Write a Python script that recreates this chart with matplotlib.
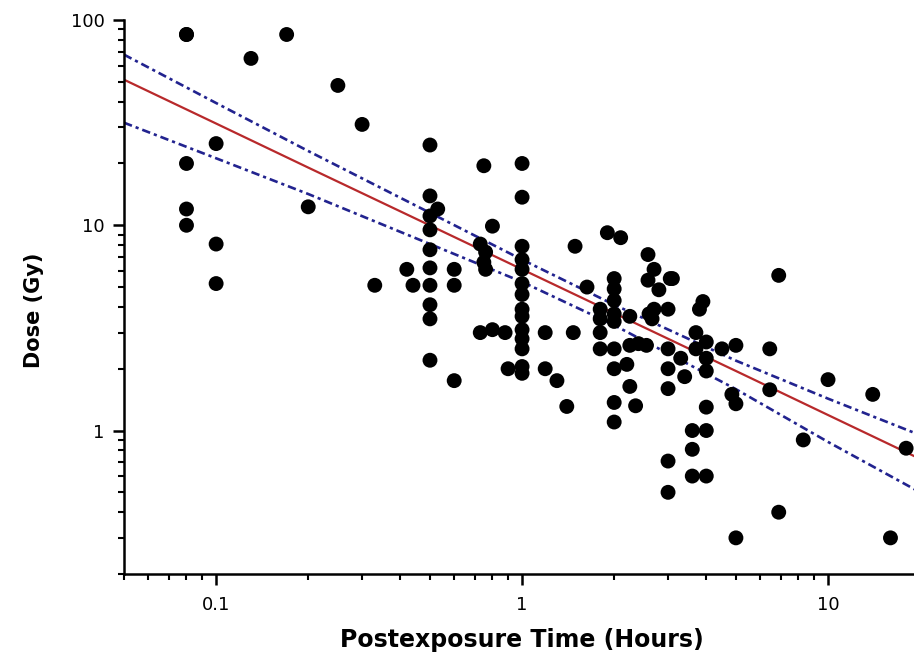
import matplotlib.pyplot as plt
from matplotlib.ticker import FixedLocator, FixedFormatter, LogLocator, NullFormatter

# scatter data: postexposure time (hours) and dose (Gy)
time_h = [
    0.08, 0.08, 0.08, 0.08, 0.08, 0.1, 0.1, 0.1, 0.13, 0.17, 0.2, 0.25, 0.3, 0.33,
    0.42, 0.44, 0.5, 0.5, 0.53, 0.5, 0.5, 0.5, 0.5, 0.5, 0.5, 0.5, 0.5,
    0.6, 0.6, 0.6,
    0.75, 0.8, 0.73, 0.76, 0.75, 0.76, 0.73, 0.8, 0.88, 0.9,
    1.0, 1.0, 1.0, 1.0, 1.0, 1.0, 1.0, 1.0, 1.0, 1.0, 1.0, 1.0, 1.0, 1.0,
    1.19, 1.19, 1.3, 1.4, 1.47, 1.49,
    1.63, 1.8, 1.8, 1.8, 1.8, 1.9, 2.0, 2.0, 2.0, 2.0, 2.0, 2.0, 2.0, 2.0, 2.0, 2.1,
    2.2, 2.25, 2.25, 2.25, 2.35, 2.4, 2.55, 2.6, 2.58, 2.58, 2.66, 2.7, 2.7, 2.8,
    3.0, 3.0, 3.0, 3.0, 3.0, 3.0, 3.05, 3.1, 3.3, 3.4,
    3.6, 3.6, 3.6, 3.7, 3.7, 3.8, 3.9, 4.0, 4.0, 4.0, 4.0, 4.0, 4.0,
    4.5, 4.85, 5.0, 5.0, 5.0, 6.45, 6.45, 6.9, 6.9, 8.3, 10.0, 14.0, 16.0, 18.0,
]
dose_gy = [
    85, 85, 20, 12, 10, 25, 8.1, 5.2, 65, 85, 12.3, 48, 31, 5.1,
    6.1, 5.1, 24.6, 13.9, 12.0, 11.1, 9.5, 7.6, 6.2, 5.1, 4.1, 3.5, 2.2,
    6.1, 5.1, 1.75,
    19.5, 9.9, 8.1, 7.4, 6.6, 6.1, 3.0, 3.1, 3.0, 2.0,
    20, 13.7, 7.9, 6.8, 6.1, 5.2, 4.6, 3.9, 3.6, 3.1, 2.8, 2.5, 2.05, 1.9,
    3.0, 2.0, 1.75, 1.31, 3.0, 7.9,
    5.0, 3.9, 3.5, 3.0, 2.5, 9.2, 5.5, 4.9, 4.3, 3.7, 3.4, 2.5, 2.0, 1.37, 1.1, 8.7,
    2.1, 3.6, 2.6, 1.64, 1.32, 2.65, 2.6, 3.7, 7.2, 5.4, 3.5, 6.1, 3.9, 4.85,
    3.9, 2.5, 2.0, 1.6, 0.71, 0.5, 5.5, 5.5, 2.25, 1.83,
    1.0, 0.81, 0.6, 3.0, 2.5, 3.9, 4.25, 2.7, 2.25, 1.95, 1.3, 1.0, 0.6,
    2.5, 1.5, 2.6, 1.35, 0.3, 2.5, 1.58, 5.7, 0.4, 0.9, 1.77, 1.5, 0.3, 0.82,
]

fit_time = [0.05, 0.1, 0.2, 0.5, 1, 2, 5, 10, 20]
fit_dose = [51.2, 31.3, 19.1, 9.98, 6.1, 3.73, 1.95, 1.19, 0.727]
ci_upper = [67.8, 39.4, 23.0, 11.5, 6.8, 4.1, 2.19, 1.43, 0.95]
ci_lower = [31.6, 21.2, 14.2, 8.1, 5.3, 3.26, 1.59, 0.88, 0.50]

plt.rcParams["font.family"] = ["DejaVu Sans"]

fig = plt.figure(figsize=(9.14, 6.56), dpi=100)
ax = fig.add_axes([0.1357, 0.125, 0.871, 0.8445])

ax.scatter(time_h, dose_gy, s=115, color="black", edgecolors="none", zorder=3)
ax.plot(fit_time, fit_dose, color="#b8292b", linewidth=1.6, zorder=2)
band_style = dict(color="#22238f", linewidth=1.9, linestyle=(0, (3.2, 1.5, 1.2, 1.5)), zorder=2)
ax.plot(fit_time, ci_upper, **band_style)
ax.plot(fit_time, ci_lower, **band_style)

ax.set_xscale("log")
ax.set_yscale("log")
ax.set_xlim(0.05, 20)
ax.set_ylim(0.2, 100)

ax.xaxis.set_major_locator(FixedLocator([0.1, 1, 10]))
ax.xaxis.set_major_formatter(FixedFormatter(["0.1", "1", "10"]))
ax.yaxis.set_major_locator(FixedLocator([1, 10, 100]))
ax.yaxis.set_major_formatter(FixedFormatter(["1", "10", "100"]))
for axis in (ax.xaxis, ax.yaxis):
    axis.set_minor_locator(LogLocator(base=10, subs=range(2, 10)))
    axis.set_minor_formatter(NullFormatter())

ax.tick_params(which="major", length=8, width=1.8, labelsize=13, pad=6)
ax.tick_params(axis="x", which="major", pad=8)
ax.tick_params(which="minor", length=4.5, width=1.5)

for side in ("top", "right"):
    ax.spines[side].set_visible(False)
for side in ("left", "bottom"):
    ax.spines[side].set_linewidth(1.8)

ax.set_xlabel("Postexposure Time (Hours)", fontsize=17, fontweight="bold", labelpad=10)
ax.set_ylabel("Dose (Gy)", fontsize=15, fontweight="bold")
ax.yaxis.set_label_coords(-0.1, 0.476)

fig.savefig("out.png", dpi=100)
